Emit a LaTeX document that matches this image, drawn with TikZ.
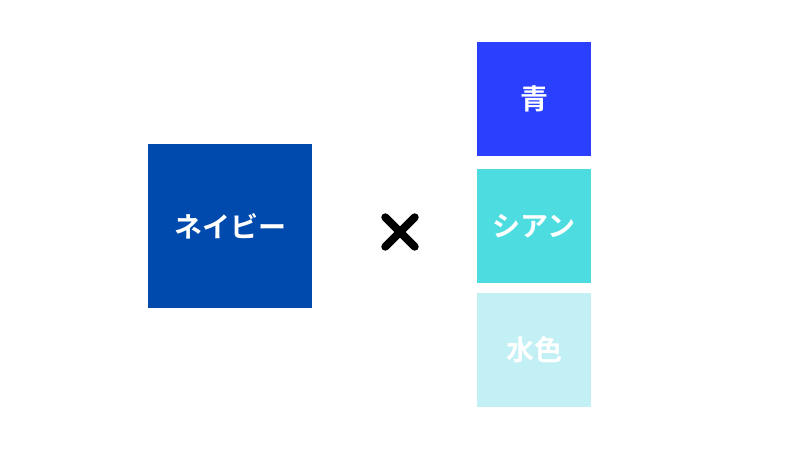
\documentclass[tikz,border=0pt]{standalone}
\usepackage{fontspec}
\usepackage{xcolor}
\usetikzlibrary{positioning}
\newfontfamily\cjk{Noto Sans CJK JP Bold}
\definecolor{navy}{HTML}{004AAD}
\definecolor{ao}{HTML}{2B40FF}
\definecolor{cyan-a}{HTML}{4DDDE0}
\definecolor{mizu}{HTML}{C2F0F5}

\begin{document}
\begin{tikzpicture}
[
x=1pt, y=1pt,
box-a/.style={rectangle, inner sep=0pt, outer sep=0pt, text=white, font=\cjk\fontsize{28}{31}\selectfont},
big-a/.style={box-a, minimum size=164pt},
small-a/.style={box-a, minimum size=114pt},
cross-a/.style={line width=8pt, line cap=round, black}
]
\useasboundingbox [fill=white] (0,0) rectangle (800,-453);
\node (cell-navy)  [big-a, fill=navy]         at (230,-226)                  {ネイビー};
\node (cell-blue)  [small-a, fill=ao]         at (534,-99)                   {青};
\node (cell-cyan)  [small-a, fill=cyan-a, below = 13pt of cell-blue]         {シアン};
\node (cell-mizu)  [small-a, fill=mizu, below = 10pt of cell-cyan]           {水色};
\node (cross)      [inner sep=0pt, minimum size=29pt] at (400,-232)           {};
\draw [cross-a] (cross.north west) -- (cross.south east);
\draw [cross-a] (cross.south west) -- (cross.north east);
\end{tikzpicture}
\end{document}
